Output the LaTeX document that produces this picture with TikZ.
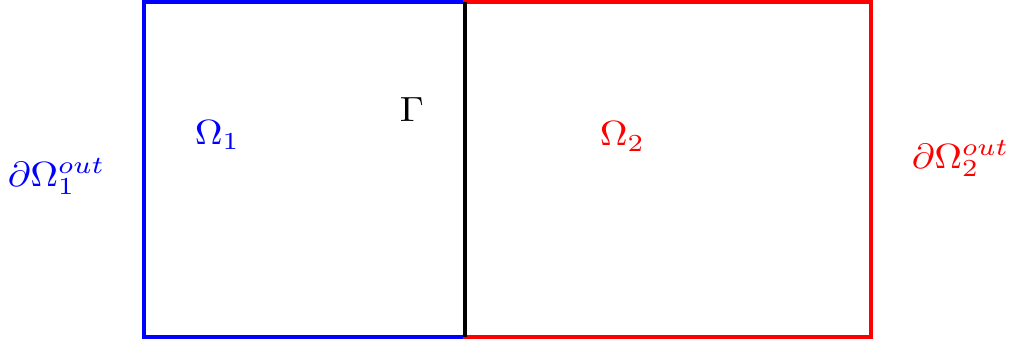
\documentclass[tikz,border=0pt]{standalone}
\begin{document}
\begin{tikzpicture}[x=1pt,y=-1pt,
  lbl/.style={inner sep=0pt,anchor=base west,xscale=3.85,yscale=3.5},
  edge/.style={line width=4pt,line cap=rect}]
\useasboundingbox (0,0) rectangle (1009,342);
\coordinate (tl) at (143.5,2.5);
\coordinate (tm) at (465,2.5);
\coordinate (tr) at (870.5,2.5);
\coordinate (bl) at (143.5,336.5);
\coordinate (bm) at (465,336.5);
\coordinate (br) at (870.5,336.5);
\draw[edge,blue] (tm) -- (tl) -- (bl) -- (bm);
\draw[edge,red] (tm) -- (tr) -- (br) -- (bm);
\draw[line width=4pt,black] (tm) -- (bm);
\node[lbl,blue] (d1) at (7,186) {$\partial\Omega_1^{out}$};
\node[lbl,blue] (o1) at (194,144) {$\Omega_1$};
\node[lbl,black] (g) at (399,122) {$\Gamma$};
\node[lbl,red] (o2) at (599,146) {$\Omega_2$};
\node[lbl,red] (d2) at (911,168) {$\partial\Omega_2^{out}$};
\end{tikzpicture}
\end{document}
